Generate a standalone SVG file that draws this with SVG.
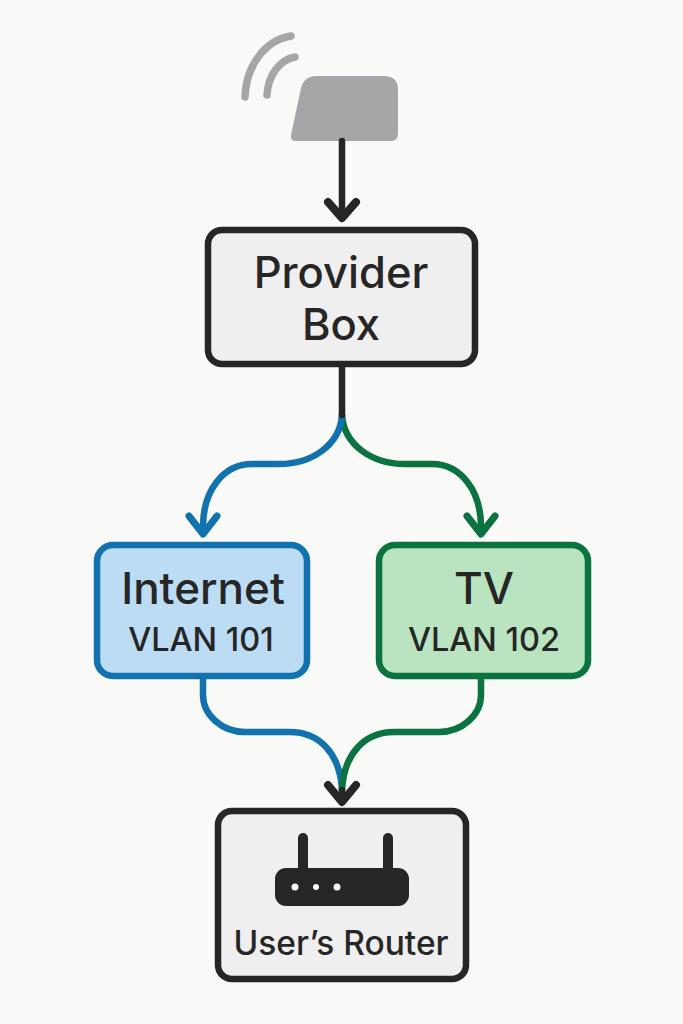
<svg xmlns="http://www.w3.org/2000/svg" width="683" height="1024" viewBox="0 0 683 1024">
<style>
.t{font-family:"Inter","Noto Sans","Liberation Sans",sans-serif;fill:#262626;text-anchor:middle;font-weight:500}
.box{stroke-width:6.5}
.c{fill:none;stroke-width:6.5;stroke-linecap:round;stroke-linejoin:round}
.h{stroke-width:8}
.k{stroke:#262626}.b{stroke:#1172ae}.g{stroke:#0a7340}
.w{fill:none;stroke:#a5a6a7;stroke-width:7.5;stroke-linecap:round}
</style>
<rect width="683" height="1024" fill="#f9f9f7"/>
<g id="antenna">
<path d="M309 76H384Q398 76 398 90V134Q398 141 391 141H296Q290 141 291 135L301 88Q304 76 317 76Z" fill="#a5a6a7"/>
<path class="w" d="M245 97C246 66 265 40 291 36"/>
<path class="w" d="M267 95C268 76 279 60 295 57"/>
</g>
<g id="connectors">
<path class="c k" d="M342 141V216" stroke-linecap="butt"/>
<path class="c k h" d="M328 202L342 218L356 202"/>
<path class="c g" d="M342 415C344 445 372 464 405 464H432C460 464 482 490 481 530"/>
<path class="c g h" style="stroke-width:7" d="M467 516L481 534L495 516"/>
<path class="c b" d="M342 415C340 445 312 464 279 464H252C224 464 202 490 203 530"/>
<path class="c b h" style="stroke-width:7" d="M189 516L203 534L217 516"/>
<path class="c k" d="M342 366V415"/>
<path class="c b" d="M203 678V695C203 715 222 732 245 732H290C318 732 340 752 342 790"/>
<path class="c g" d="M481 678V695C481 715 462 732 439 732H394C366 732 344 752 342 790"/>
<path class="c k h" d="M328 785L342 802L356 785"/>
<path class="c k" d="M342 790V800"/>
</g>
<g id="provider-box">
<rect class="box" x="208" y="230" width="267" height="134" rx="14" fill="#efefef" stroke="#262626"/>
<text class="t" x="341" y="288" font-size="43.5">Provider</text>
<text class="t" x="341" y="340" font-size="43.5">Box</text>
</g>
<g id="internet">
<rect class="box" x="97" y="545" width="210" height="131" rx="16" fill="#bbdcf2" stroke="#1172ae"/>
<text class="t" x="203" y="604" font-size="44">Internet</text>
<text class="t" x="201" y="651" font-size="32.5">VLAN 101</text>
</g>
<g id="tv">
<rect class="box" x="379" y="545" width="209" height="131" rx="16" fill="#b9e4bf" stroke="#0a7340"/>
<text class="t" x="484" y="604" font-size="44">TV</text>
<text class="t" x="484" y="651" font-size="32.5">VLAN 102</text>
</g>
<g id="router">
<rect class="box" x="218" y="811" width="248" height="168" rx="14" fill="#efefef" stroke="#262626"/>
<path d="M303 838V870M388 838V870" stroke="#262626" stroke-width="10" stroke-linecap="round" fill="none"/>
<rect x="275" y="868" width="134" height="38" rx="11" fill="#262626"/>
<circle cx="295" cy="887" r="3.5" fill="#f9f9f7"/>
<circle cx="316" cy="887" r="3" fill="#f9f9f7"/>
<circle cx="337" cy="887" r="3.5" fill="#f9f9f7"/>
<text class="t" x="341" y="955" font-size="33.5">User’s Router</text>
</g>
</svg>
